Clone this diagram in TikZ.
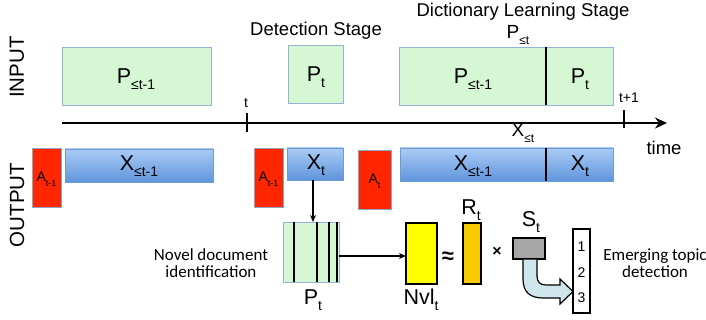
\documentclass[tikz,border=0pt]{standalone}
\usepackage{fontspec}
\setmainfont{Liberation Sans}
\newfontfamily\carlito[Ligatures=Common]{Carlito}
\usetikzlibrary{arrows.meta}
\definecolor{gfill}{HTML}{D6F7D3}
\definecolor{gline}{HTML}{94B3D6}
\definecolor{btop}{HTML}{AACBF5}
\definecolor{bbot}{HTML}{5F95DC}
\definecolor{bline}{HTML}{6C9BD2}
\definecolor{rfill}{HTML}{FF2600}
\definecolor{rline}{HTML}{8EA5C0}
\definecolor{yfill}{HTML}{FFFF00}
\definecolor{ofill}{HTML}{F7CB00}
\definecolor{sfill}{HTML}{A6A6A6}
\definecolor{afill}{HTML}{CFE6EC}
\newcommand\fsz[1]{\fontsize{#1}{#1}\selectfont}
\newcommand\sub[2][14]{{\fsz{#1}\raisebox{-5.5pt}{#2}}}
\begin{document}
\begin{tikzpicture}[x=1pt,y=-1pt,
  every node/.style={inner sep=0pt,outer sep=0pt},
  gbox/.style={draw=gline,fill=gfill,line width=0.8pt},
  bbar/.style={draw=bline,top color=btop,bottom color=bbot,line width=0.8pt},
  rbox/.style={draw=rline,fill=rfill,line width=0.8pt},
  big/.style={font=\fsz{21.5}},
  mid/.style={font=\fsz{18.5}},
  small/.style={font=\fsz{14}},
  cal/.style={font=\carlito\fsz{17},align=center},
  divider/.style={line width=1.8pt},
  conn/.style={line width=1.2pt,-{Stealth[length=7pt,width=6pt]}}]
\useasboundingbox (0,0) rectangle (706,320);

% side labels
\node[font=\fsz{20.5},rotate=90] (inp) at (17,67) {INPUT};
\node[font=\fsz{20.5},rotate=90] (outp) at (17,205) {OUTPUT};

% stage titles
\node[mid] (det) at (316,31) {Detection Stage};
\node[mid] (dict) at (523,12) {Dictionary Learning Stage};
\node[font=\fsz{19}] (plab) at (518,35) {P\sub[12]{≤t}};

% input row
\node[gbox,minimum width=149pt,minimum height=58pt] (pa) at (136.5,76) {};
\node[big] (patxt) at (136,79) {P\sub{≤t-1}};
\node[gbox,minimum width=55pt,minimum height=58pt] (pt1) at (315.5,74) {};
\node[big] (pt1txt) at (316,77) {P\sub{t}};
\node[gbox,minimum width=214pt,minimum height=58pt] (pbig) at (506,76) {};
\draw[divider] (546,47) -- (546,105);
\node[big] (pbtxt1) at (473,79) {P\sub{≤t-1}};
\node[big] (pbtxt2) at (580,79) {P\sub{t}};

% time axis
\coordinate (ax0) at (62,123);
\coordinate (ax1) at (667,123);
\draw[line width=2.5pt,-{Stealth[length=12pt,width=11pt]}] (ax0) -- (ax1);
\draw[line width=1.8pt] (247,113) -- (247,132);
\draw[line width=1.8pt] (624,110) -- (624,128);
\node[small] (tl) at (246,103) {t};
\node[small] (tl2) at (629,98) {t+1};
\node[font=\fsz{19}] (xlab) at (523,133) {X\sub[12]{≤t}};
\node[font=\fsz{18.5}] (time) at (664,148) {time};

% output row
\node[rbox,minimum width=29pt,minimum height=59pt] (ra1) at (46.5,177.5) {};
\node[small] at (46.5,179) {A\sub[9]{t-1}};
\node[bbar,minimum width=148pt,minimum height=33pt] (bx1) at (139,165.5) {};
\node[big] (bx1t) at (139,166) {X\sub{≤t-1}};
\node[rbox,minimum width=29pt,minimum height=59pt] (ra2) at (268.5,177.5) {};
\node[small] at (268.5,179) {A\sub[9]{t-1}};
\node[bbar,minimum width=56pt,minimum height=32pt] (xt) at (315,164) {};
\node[big] (xttxt) at (316,165) {X\sub{t}};
\node[rbox,minimum width=33pt,minimum height=59pt] (ra3) at (374.5,179.5) {};
\node[small] at (374.5,181) {A\sub[9]{t}};
\node[bbar,minimum width=213pt,minimum height=33pt] (bx2) at (506.5,164.5) {};
\draw[divider] (546,148) -- (546,181);
\node[big] (bx2t1) at (473,166) {X\sub{≤t-1}};
\node[big] (bx2t2) at (580,166) {X\sub{t}};

% novel document identification
\node[gbox,minimum width=56pt,minimum height=60pt] (ptm) at (311,252) {};
\foreach \xx in {294,317,329,337} \draw[line width=2.6pt] (\xx,222) -- (\xx,282);
\node[big] (ptmlab) at (313,300) {P\sub{t}};
\node[cal,anchor=east] (novel) at (268,263) {Novel document\\identification};
\draw[conn] (xt.south -| 313,0) -- (313,222);

% factorisation
\node[draw,line width=1.2pt,fill=yfill,minimum width=31pt,minimum height=61pt] (nvl) at (421.5,253.5) {};
\node[big] (nvllab) at (421,300) {Nvl\sub{t}};
\draw[line width=1.2pt,-{Stealth[length=7pt,width=6pt]}] (ptm.east |- 0,256) -- (nvl.west |- 0,256);
\node[font=\fsz{22}\bfseries] (approx) at (448,258) {≈};
\node[draw,line width=1.2pt,fill=ofill,minimum width=18pt,minimum height=61pt] (rt) at (472,253.5) {};
\node[big] (rtlab) at (471,210) {R\sub{t}};
\node[font=\fsz{16}\bfseries] (times) at (497,252) {×};
\node[draw,line width=1.2pt,fill=sfill,minimum width=32pt,minimum height=21pt] (st) at (529,248.5) {};
\node[big] (stlab) at (531,222) {S\sub{t}};

% topic column
\node[draw,line width=1.4pt,fill=white,minimum width=17pt,minimum height=84pt] (col) at (581.5,271) {};
\node[small] (n1) at (581.5,247) {1};
\node[small] (n2) at (581.5,273) {2};
\node[small] (n3) at (581.5,298) {3};
\node[cal] (emerg) at (655,263) {Emerging topic\\detection};

% curved block arrow
\draw[line width=1.2pt,fill=afill,line join=miter]
  (523,259.5) -- (523,279) .. controls (523,292) and (530,298) .. (543,298)
  -- (560,298) -- (560,304) -- (573,291.5) -- (560,279) -- (560,285)
  -- (546,285) .. controls (540,285) and (537,282) .. (537,276) -- (537,259.5);
\end{tikzpicture}
\end{document}
